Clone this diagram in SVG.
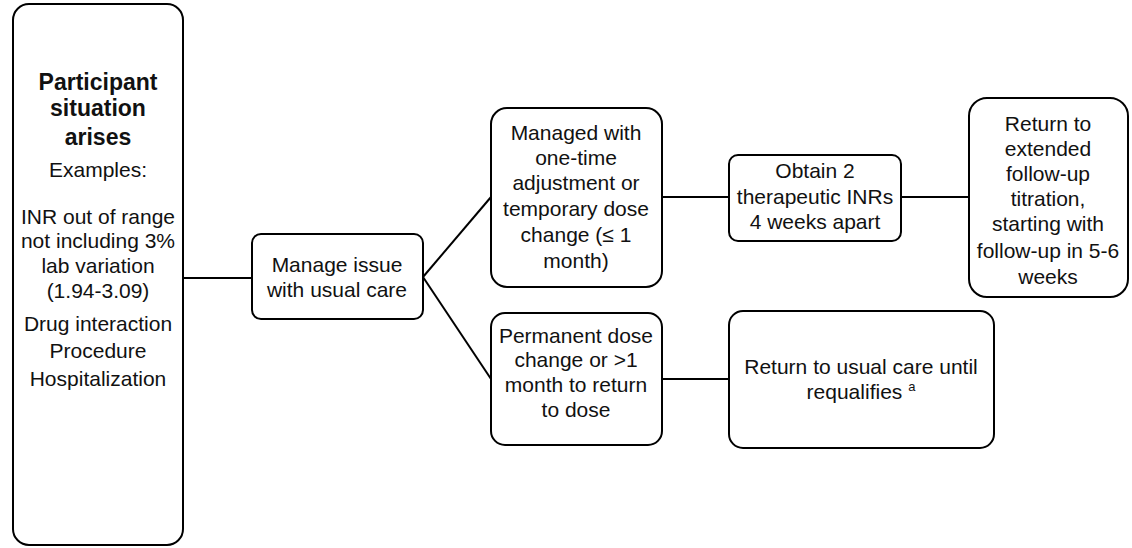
<svg xmlns="http://www.w3.org/2000/svg" width="1132" height="548" viewBox="0 0 1132 548">
<style>
.box{fill:#fff;stroke:#000;stroke-width:2}
.t{font-family:"Liberation Sans",Arial,sans-serif;font-size:21px;fill:#111;text-anchor:middle}
.b{font-family:"Liberation Sans",Arial,sans-serif;font-size:23px;font-weight:bold;fill:#111;text-anchor:middle}
.c{stroke:#000;stroke-width:2;fill:none}
</style>
<rect width="1132" height="548" fill="#fff"/>
<g id="connectors">
<line class="c" x1="183" y1="278" x2="252" y2="278"/>
<line class="c" x1="423" y1="277" x2="491" y2="197"/>
<line class="c" x1="423" y1="277" x2="491" y2="379"/>
<line class="c" x1="662" y1="197" x2="729" y2="197"/>
<line class="c" x1="901" y1="197" x2="969" y2="197"/>
<line class="c" x1="662" y1="379" x2="729" y2="379"/>
</g>
<g id="situation">
<rect class="box" x="13" y="4" width="170" height="541" rx="16"/>
<text class="b" x="98" y="90">Participant</text>
<text class="b" x="98" y="116">situation</text>
<text class="b" x="98" y="145">arises</text>
<text class="t" x="98" y="177">Examples:</text>
<text class="t" x="98" y="224">INR out of range</text>
<text class="t" x="98" y="248">not including 3%</text>
<text class="t" x="98" y="273">lab variation</text>
<text class="t" x="98" y="298">(1.94-3.09)</text>
<text class="t" x="98" y="331">Drug interaction</text>
<text class="t" x="98" y="358">Procedure</text>
<text class="t" x="98" y="386">Hospitalization</text>
</g>
<g id="manage">
<rect class="box" x="252" y="234" width="171" height="85" rx="9"/>
<text class="t" x="337" y="272">Manage issue</text>
<text class="t" x="337" y="297">with usual care</text>
</g>
<g id="temporary">
<rect class="box" x="491" y="108" width="171" height="179" rx="16"/>
<text class="t" x="576" y="140">Managed with</text>
<text class="t" x="576" y="165">one-time</text>
<text class="t" x="576" y="190">adjustment or</text>
<text class="t" x="576" y="216">temporary dose</text>
<text class="t" x="576" y="242">change (≤ 1</text>
<text class="t" x="576" y="268">month)</text>
</g>
<g id="obtain">
<rect class="box" x="729" y="155" width="172" height="86" rx="9"/>
<text class="t" x="815" y="178">Obtain 2</text>
<text class="t" x="815" y="204">therapeutic INRs</text>
<text class="t" x="815" y="229">4 weeks apart</text>
</g>
<g id="return-extended">
<rect class="box" x="969" y="98" width="159" height="199" rx="18"/>
<text class="t" x="1048" y="131">Return to</text>
<text class="t" x="1048" y="156">extended</text>
<text class="t" x="1048" y="181">follow-up</text>
<text class="t" x="1048" y="206">titration,</text>
<text class="t" x="1048" y="231">starting with</text>
<text class="t" x="1048" y="258">follow-up in 5-6</text>
<text class="t" x="1048" y="284">weeks</text>
</g>
<g id="permanent">
<rect class="box" x="491" y="313" width="171" height="132" rx="14"/>
<text class="t" x="576" y="343">Permanent dose</text>
<text class="t" x="576" y="367">change or &gt;1</text>
<text class="t" x="576" y="392">month to return</text>
<text class="t" x="576" y="417">to dose</text>
</g>
<g id="usual-care">
<rect class="box" x="729" y="311" width="265" height="137" rx="14"/>
<text class="t" x="861" y="374">Return to usual care until</text>
<text class="t" x="861" y="399">requalifies <tspan font-size="13" dy="-8">a</tspan></text>
</g>
</svg>
